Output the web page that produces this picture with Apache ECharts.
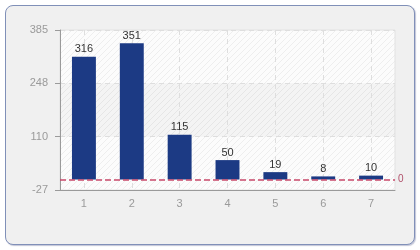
<!DOCTYPE html>
<html><head><meta charset="utf-8">
<script src="https://cdn.jsdelivr.net/npm/echarts@6/dist/echarts.min.js"></script>
<style>
html,body{margin:0;padding:0;background:#fff;}
#frame{position:absolute;left:5px;top:5px;width:408px;height:238px;border:1px solid #8090b8;border-radius:8px;background:#f0f0f0;box-shadow:1px 1px 1px rgba(80,90,140,0.35);}
#chart{position:absolute;left:0;top:0;width:420px;height:250px;}
</style></head>
<body>
<div id="frame"></div>
<div id="chart"></div>
<script>
var categories = ['1','2','3','4','5','6','7'];
var values = [316, 351, 115, 50, 19, 8, 10];
var yMin = -27, yMax = 385;
var refValue = 0;

var pc = document.createElement('canvas');
pc.width = 6; pc.height = 6;
var g = pc.getContext('2d');
g.fillStyle = '#fcfcfc'; g.fillRect(0,0,6,6);
g.strokeStyle = '#eeeeee'; g.lineWidth = 1;
g.beginPath();
for (var k = -6; k <= 12; k += 6) { g.moveTo(k, 6); g.lineTo(k + 6, 0); }
g.stroke();

var lineColor = '#c8486a';
var chart = echarts.init(document.getElementById('chart'), null, {renderer:'canvas'});
chart.setOption({
  backgroundColor: 'transparent',
  animation: false,
  textStyle: {fontFamily: 'Liberation Sans, Arial, sans-serif'},
  grid: {left: 60, right: 25, top: 30, bottom: 60, show: true,
         backgroundColor: {image: pc, repeat: 'repeat'}, borderColor: '#e2e2e2', borderWidth: 1},
  xAxis: {
    type: 'category', data: categories, boundaryGap: true,
    axisLine: {onZero: false, lineStyle: {color: '#9a9a9a'}},
    axisTick: {alignWithLabel: true, length: 5, lineStyle: {color: '#9a9a9a'}},
    axisLabel: {color: '#9a9a9a', fontSize: 11, margin: 8},
    splitLine: {show: true, alignWithLabel: true, lineStyle: {color: '#dedede', type: [5,4]}}
  },
  yAxis: {
    type: 'value', min: yMin, max: yMax, interval: (yMax - yMin) / 3,
    axisLine: {show: true, lineStyle: {color: '#9a9a9a'}},
    axisTick: {show: true, length: 5, lineStyle: {color: '#9a9a9a'}},
    axisLabel: {color: '#9a9a9a', fontSize: 11, margin: 12, formatter: function(v){return Math.round(v);}},
    splitLine: {show: true, lineStyle: {color: '#dedede', type: [5,4]}},
    splitArea: {show: true, areaStyle: {color: ['rgba(0,0,0,0)', 'rgba(0,0,0,0.03)']}}
  },
  series: [{
    type: 'bar', data: values, barWidth: '50%',
    itemStyle: {color: '#1c3a84'},
    label: {show: true, position: 'top', color: '#333', fontSize: 11, distance: 2},
    markLine: {
      silent: true, symbol: ['none', 'none'], z: 10,
      lineStyle: {color: lineColor, type: 'dashed', dashOffset: 0, width: 1.5, opacity: 1, cap: 'butt'},
      label: {show: true, position: 'end', color: '#b0506a', fontSize: 10, distance: 3, formatter: String(refValue)},
      data: [{yAxis: refValue}]
    }
  }]
});
</script>
</body></html>
